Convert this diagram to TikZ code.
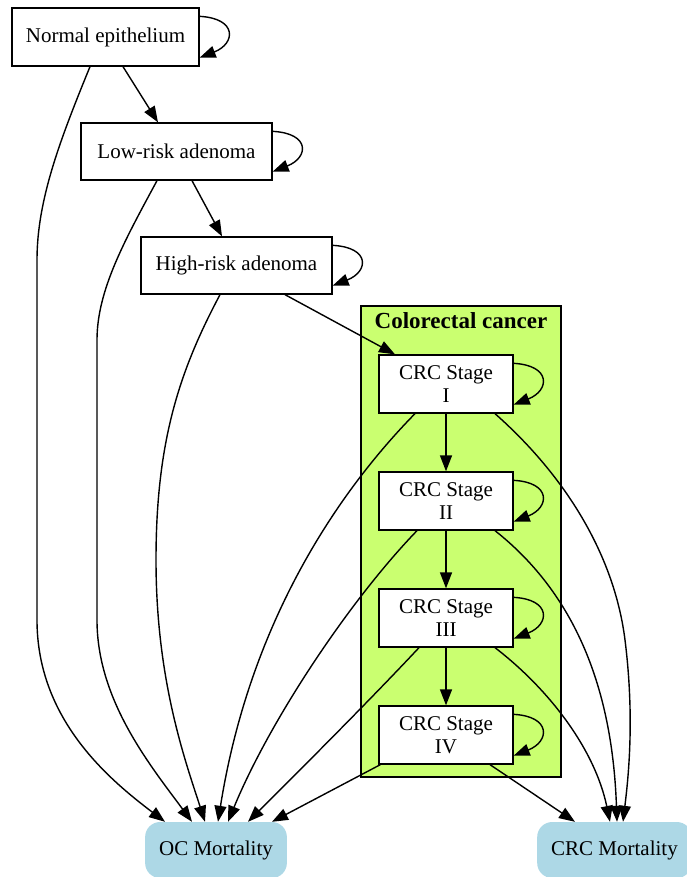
\documentclass[tikz,border=0pt]{standalone}
\usepackage{fontspec}
\setmainfont{Liberation Serif}
\usetikzlibrary{arrows.meta}
\definecolor{clustergreen}{HTML}{CAFF70}
\definecolor{mortblue}{HTML}{ADD8E6}

\begin{document}
\begin{tikzpicture}[
  x=1pt, y=-1pt,
  every node/.style={font=\fontsize{21}{23}\selectfont, inner sep=0pt},
  state/.style={draw, fill=white, line width=1.3pt, minimum width=191pt, minimum height=57pt},
  stage/.style={draw, fill=white, line width=1.3pt, align=center,
    minimum width=134pt, minimum height=58pt},
  sink/.style={fill=mortblue, rounded corners=15pt, inner xsep=14pt, minimum height=56pt},
  cluster/.style={draw, fill=clustergreen, line width=1.3pt,
    minimum width=200pt, minimum height=471pt},
  trans/.style={line width=1.4pt, -{Triangle[length=16pt, width=12pt]}},
]
  \useasboundingbox (0,0) rectangle (687,877);
  % Cancer cluster
  \node[cluster] (cancer) at (461,541.5) {};
  \node[font=\fontsize{23}{25}\selectfont\bfseries, anchor=base] (cancerlbl) at (461,328) {Colorectal cancer};
  % Nodes
  \node[state, minimum width=187pt, minimum height=58pt] (ne) at (105.5,37) {Normal epithelium};
  \node[state] (lr) at (176.5,151.5) {Low-risk adenoma};
  \node[state] (hr) at (236.5,265.5) {High-risk adenoma};
  \node[stage] (s1) at (446,384) {CRC Stage\\I};
  \node[stage] (s2) at (446,501) {CRC Stage\\II};
  \node[stage] (s3) at (446,618) {CRC Stage\\III};
  \node[stage] (s4) at (446,735) {CRC Stage\\IV};
  \node[sink] (oc) at (216,850) {OC Mortality};
  \node[sink] (crcm) at (614.5,850) {CRC Mortality};
  % Progression
  \draw[trans] ([xshift=17.5pt]ne.south) -- ([xshift=-18.5pt]lr.north);
  \draw[trans] ([xshift=15.5pt]lr.south) -- ([xshift=-14.5pt]hr.north);
  \draw[trans] ([xshift=48.5pt]hr.south) -- ([xshift=-51pt]s1.north);
  \draw[trans] (s1) -- (s2);
  \draw[trans] (s2) -- (s3);
  \draw[trans] (s3) -- (s4);
  % Staying in the same state
  \foreach \n in {ne,lr,hr,s1,s2,s3,s4}
    \draw[trans] ([yshift=-9pt]\n.north east) .. controls +(38,2) and +(36,-14) .. ([yshift=9pt]\n.south east);
  % Other-cause deaths
  \draw[trans] ([xshift=-15.5pt]ne.south) .. controls (60,140) and (37,200) .. (37,260)
    -- (37,620) .. controls (37,720) and (110,780) .. ([xshift=-51pt]oc.north);
  \draw[trans] ([xshift=-19.5pt]lr.south) .. controls (125,240) and (97,290) .. (97,340)
    -- (97,620) .. controls (97,700) and (150,765) .. ([xshift=-24pt]oc.north);
  \draw[trans] ([xshift=-16.5pt]hr.south) .. controls (180,370) and (156,440) .. (156,560)
    .. controls (156,680) and (185,760) .. ([xshift=-11pt]oc.north);
  \draw[trans] ([xshift=-31pt]s1.south) .. controls (340,490) and (250,620) .. ([xshift=2pt]oc.north);
  \draw[trans] ([xshift=-29pt]s2.south) .. controls (350,600) and (270,720) .. ([xshift=12pt]oc.north);
  \draw[trans] ([xshift=-27pt]s3.south) .. controls (370,700) and (300,770) .. ([xshift=32pt]oc.north);
  \draw[trans] ([xshift=2pt]s4.south west) -- ([xshift=56pt]oc.north);
  % Cancer deaths
  \draw[trans] ([xshift=49pt]s1.south) .. controls (570,480) and (615,560) .. (625,640)
    .. controls (635,720) and (628,780) .. ([xshift=8.5pt]crcm.north);
  \draw[trans] ([xshift=49pt]s2.south) .. controls (570,590) and (612,680) .. ([xshift=2.5pt]crcm.north);
  \draw[trans] ([xshift=49pt]s3.south) .. controls (550,690) and (595,750) .. ([xshift=-4.5pt]crcm.north);
  \draw[trans] ([xshift=44pt]s4.south) -- ([xshift=-39.5pt]crcm.north);
\end{tikzpicture}
\end{document}
